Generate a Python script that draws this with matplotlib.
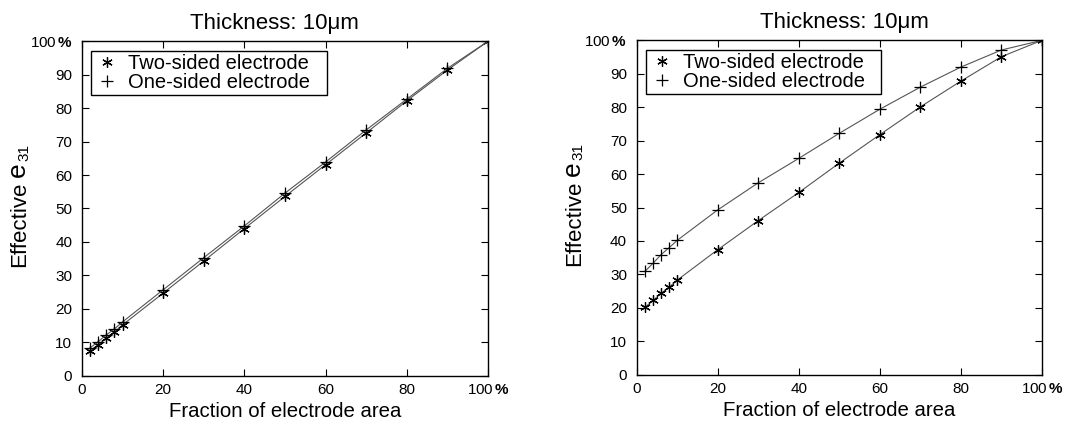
import matplotlib
matplotlib.use("Agg")
import matplotlib.pyplot as plt

plt.rcParams['font.family'] = ['Liberation Sans', 'DejaVu Sans']
plt.rcParams['mathtext.fontset'] = 'custom'
plt.rcParams['mathtext.rm'] = 'Liberation Sans'
plt.rcParams['mathtext.it'] = 'Liberation Sans:italic'
plt.rcParams['mathtext.bf'] = 'Liberation Sans:bold'

fraction = [2, 4, 6, 8, 10, 20, 30, 40, 50, 60, 70, 80, 90, 100]

left_two_sided = [7.4, 9.3, 11.2, 13.1, 15.2, 24.7, 34.3, 44.0, 53.6, 63.1, 72.6, 82.2, 91.4, 100]
left_one_sided = [8.3, 10.2, 12.2, 14.0, 16.1, 25.7, 35.3, 44.8, 54.6, 63.9, 73.5, 82.7, 91.9, 100]

right_two_sided = [20.1, 22.2, 24.3, 26.2, 28.3, 37.4, 46.1, 54.5, 63.3, 71.8, 80.1, 87.8, 95.1, 100]
right_one_sided = [30.9, 33.3, 35.9, 38.0, 40.2, 49.3, 57.4, 64.7, 72.2, 79.4, 86.0, 92.0, 97.1, 100]

x_ticks = [0, 20, 40, 60, 80, 100]
x_labels = ['0', '20', '40', '60', '80', '100$\\,\\mathbf{\\%}$']
y_ticks = [0, 10, 20, 30, 40, 50, 60, 70, 80, 90, 100]
y_labels = ['0', '10', '20', '30', '40', '50', '60', '70', '80', '90', '100$\\,\\mathbf{\\%}$']

title = 'Thickness: 10μm'
x_title = 'Fraction of electrode area'
y_title_main = 'Effective'
y_title_symbol = 'e'
y_title_sub = '31'
series_names = ['Two-sided electrode', 'One-sided electrode']

W, H = 1092, 426
fig = plt.figure(figsize=(W / 100, H / 100), dpi=100)
positions = [[0.0751, 0.1181, 0.3718, 0.7850], [0.5831, 0.1204, 0.3711, 0.7850]]
title_x = [0.475, 0.512]
data = [(left_two_sided, left_one_sided), (right_two_sided, right_one_sided)]

star = (6, 2, 0)
axes = []
for pos, tx, (two, one) in zip(positions, title_x, data):
    ax = fig.add_axes(pos)
    axes.append(ax)
    ax.plot(fraction, two, color='#555555', lw=0.8, marker=star, ms=7.5,
            mec='black', mfc='black', mew=0.9, label=series_names[0])
    ax.plot(fraction, one, color='#555555', lw=0.8, marker='+', ms=8,
            mec='black', mew=0.9, label=series_names[1])
    ax.set_xlim(0, 100)
    ax.set_ylim(0, 100)
    ax.set_xticks(x_ticks)
    ax.set_xticklabels(x_labels, fontsize=11)
    ax.set_yticks(y_ticks)
    ax.set_yticklabels(y_labels, fontsize=11)
    ax.tick_params(direction='in', top=True, right=True, length=5, width=0.8)
    ax.tick_params(axis='x', pad=5)
    ax.tick_params(axis='y', pad=7)
    for s in ax.spines.values():
        s.set_linewidth(1.0)
    ax.set_title(title, fontsize=16, pad=9, x=tx)
    ax.set_xlabel(x_title, fontsize=14.7, labelpad=4)
    leg = ax.legend(loc='upper left', bbox_to_anchor=(0.022, 0.970, 0.581, 0.0),
                    mode='expand', borderaxespad=0.0,
                    fontsize=14.5, frameon=True, fancybox=False,
                    edgecolor='black', framealpha=1, borderpad=0.15, labelspacing=0.0,
                    handlelength=1.3, handletextpad=0.4)
    leg.get_frame().set_linewidth(1.0)
    for h in leg.legend_handles:
        h.set_linestyle('None')

# y-axis titles: "Effective" + larger "e" + subscript "31", rotated
fig.canvas.draw()
renderer = fig.canvas.get_renderer()
for ax in axes:
    bb = ax.get_position()
    xb = bb.x0 - 57 / W
    yc = (bb.y0 + bb.y1) / 2 + 3 / H
    kw = dict(rotation=90, rotation_mode='anchor', ha='left', va='baseline')
    t1 = fig.text(xb, 0, y_title_main, fontsize=16, **kw)
    t2 = fig.text(xb, 0, y_title_symbol, fontsize=19, **kw)
    t3 = fig.text(xb + 3 / W, 0, y_title_sub, fontsize=11, **kw)
    L1 = t1.get_window_extent(renderer).height
    L2 = t2.get_window_extent(renderer).height
    L3 = t3.get_window_extent(renderer).height
    gap = 5
    total = L1 + gap + L2 + 1 + L3
    y0 = yc * H - total / 2
    t1.set_y(y0 / H)
    t2.set_y((y0 + L1 + gap) / H)
    t3.set_y((y0 + L1 + gap + L2 + 1) / H)

fig.savefig('out.png', dpi=100)
